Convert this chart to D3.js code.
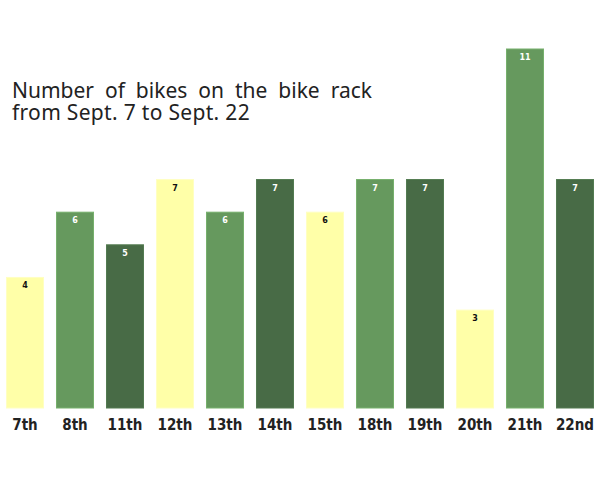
<!DOCTYPE html>
<html>
<head>
<meta charset="utf-8">
<script src="https://cdn.jsdelivr.net/npm/d3@7"></script>
<style>
  body { margin: 0; background: #fff; }
  .title { font-family: "Noto Sans", sans-serif; font-size: 21px; fill: #222; }
  .xlab { font-family: "Liberation Sans Narrow", "DejaVu Sans Condensed", "DejaVu Sans", sans-serif; font-stretch: condensed; font-weight: bold; font-size: 15px; fill: #222; }
  .val { font-family: "DejaVu Sans", sans-serif; font-weight: bold; font-size: 8px; }
</style>
</head>
<body>
<svg id="chart" width="600" height="500"></svg>
<script>
// data
const days = ["7th", "8th", "11th", "12th", "13th", "14th", "15th", "18th", "19th", "20th", "21th", "22nd"];
const bikes = [4, 6, 5, 7, 6, 7, 6, 7, 7, 3, 11, 7];
const barColors = ["#ffffa8", "#66995e", "#486b46"];
const titleLines = ["Number of bikes on the bike rack", "from Sept. 7 to Sept. 22"];

const width = 600, height = 500;
const svg = d3.select("#chart");

const x = d3.scaleBand()
  .domain(days)
  .range([0, width])
  .paddingInner(0.26)
  .paddingOuter(0.13);

const y = d3.scaleLinear()
  .domain([0, 11])
  .range([408, 49]);

// bars
svg.selectAll("rect.bar")
  .data(bikes)
  .enter()
  .append("rect")
  .attr("class", "bar")
  .attr("x", (d, i) => x(days[i]))
  .attr("y", d => y(d))
  .attr("width", x.bandwidth())
  .attr("height", d => y(0) - y(d))
  .attr("fill", (d, i) => barColors[i % 3])
  .attr("stroke", (d, i) => d3.color(barColors[i % 3]).brighter(0.4))
  .attr("stroke-width", 1);

// value labels inside bar tops
svg.selectAll("text.val")
  .data(bikes)
  .enter()
  .append("text")
  .attr("class", "val")
  .attr("x", (d, i) => x(days[i]) + x.bandwidth() / 2)
  .attr("y", d => y(d) + 11)
  .attr("text-anchor", "middle")
  .attr("fill", (d, i) => i % 3 === 0 ? "#111" : "#fff")
  .text(d => d);

// x labels
const xAxis = d3.axisBottom(x).tickSize(0).tickPadding(0);
const gx = svg.append("g")
  .attr("transform", "translate(0,419)")
  .call(xAxis);
gx.select(".domain").remove();
gx.selectAll("text")
  .attr("class", "xlab")
  .attr("dy", "0.71em")
  .attr("font-family", null)
  .attr("font-size", null)
  .attr("fill", null);

// title
const title = svg.append("g").attr("transform", "translate(12,0)");
title.selectAll("text")
  .data(titleLines)
  .enter()
  .append("text")
  .attr("class", "title")
  .attr("y", (d, i) => 98 + i * 22)
  .text(d => d);

// first line is justified out to 360px, second a touch wider
const lines = title.selectAll("text").nodes();
const gap = 360 - lines[0].getComputedTextLength();
const spaces = titleLines[0].split(" ").length - 1;
if (gap > 0) d3.select(lines[0]).style("word-spacing", (gap / spaces) + "px");
const gap2 = 238 - lines[1].getComputedTextLength();
if (gap2 > 0) d3.select(lines[1]).style("letter-spacing", (gap2 / titleLines[1].length) + "px");
</script>
</body>
</html>
